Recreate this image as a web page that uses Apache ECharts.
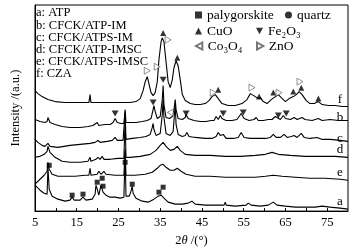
<!DOCTYPE html>
<html>
<head>
<meta charset="utf-8">
<script src="https://cdn.jsdelivr.net/npm/echarts@6/dist/echarts.min.js"></script>
<style>
html, body { margin: 0; padding: 0; background: #fff; }
#chart { width: 356px; height: 252px; }
</style>
</head>
<body>
<div id="chart"></div>
<script>
// x tick labels (2θ)
const xTickLabels = [5, 15, 25, 35, 45, 55, 65, 75];

// sample names, top-left block
const sampleLines = ['a: ATP', 'b: CFCK/ATP-IM', 'c: CFCK/ATPS-IM', 'd: CFCK/ATP-IMSC', 'e: CFCK/ATPS-IMSC', 'f: CZA'];

// curve tags on the right
const curveTags = ['f', 'b', 'c', 'd', 'e', 'a'];
const curveTagY = [100, 118, 139, 150, 173, 202];

// traces: [2θ, offset intensity]
const traceF = [[5.0,121],[5.7,118],[6.7,115],[8.1,112],[9.8,110],[12.2,109],[14.6,109],[17.0,109],[17.9,109],[18.2,117],[18.4,109],[20.6,109],[23.0,109],[25.4,109],[27.8,109],[29.2,110],[30.2,113],[30.9,121],[31.4,130],[31.9,135],[32.3,128],[32.8,119],[33.3,116],[33.8,119],[34.3,130],[34.7,152],[35.2,170],[35.5,174],[35.9,170],[36.4,150],[36.9,130],[37.4,124],[37.9,132],[38.3,144],[38.8,151],[39.3,146],[39.8,132],[40.3,117],[41.0,111],[42.2,108],[43.4,107],[44.6,107],[45.8,108],[46.7,111],[47.4,115],[48.2,117],[48.9,113],[49.8,108],[51.3,106],[53.0,106],[54.6,108],[55.8,112],[56.6,118],[57.0,120],[57.8,115],[58.5,113],[59.0,114],[59.7,110],[60.6,108],[61.6,112],[62.6,115],[63.3,117],[64.0,114],[65.0,110],[65.9,113],[66.9,115],[67.6,117],[68.3,120],[69.0,117],[70.0,111],[70.9,108],[71.9,108],[72.9,110],[73.8,107],[75.3,106],[76.9,106],[78.6,105],[80.0,105]];

const traceB = [[5.0,92],[6.2,90],[7.4,89],[7.9,90],[8.1,94],[8.6,89],[9.8,87],[11.5,85],[13.4,84],[15.8,84],[17.7,85],[18.9,86],[19.9,89],[20.3,86],[21.8,87],[23.0,87],[23.7,89],[24.2,93],[24.7,89],[25.6,88],[26.3,88],[26.6,102],[26.8,89],[27.8,89],[29.2,89],[30.7,90],[31.9,91],[32.8,93],[33.3,102],[33.5,106],[33.8,100],[34.3,93],[35.0,95],[35.5,112],[35.7,126],[35.9,107],[36.4,94],[37.2,93],[37.9,95],[38.3,102],[38.6,112],[38.8,102],[39.3,93],[40.3,92],[41.0,94],[41.2,97],[41.7,93],[43.1,91],[44.6,90],[46.0,90],[47.2,91],[47.9,91],[48.4,95],[48.9,92],[49.4,96],[49.8,93],[50.8,91],[52.2,91],[53.4,92],[54.4,98],[55.1,93],[56.3,91],[57.5,92],[58.0,94],[58.5,91],[59.7,91],[60.9,92],[61.8,92],[62.6,95],[63.0,93],[63.8,92],[64.5,96],[65.0,93],[66.2,92],[67.1,94],[67.8,92],[69.0,94],[69.7,92],[71.4,91],[72.9,93],[73.8,91],[75.7,92],[77.7,91],[80.0,91]];

const traceC = [[5.0,72],[5.7,69],[6.7,66],[7.4,65],[8.1,68],[8.6,65],[10.5,64],[13.4,66],[15.8,67],[18.2,68],[19.4,69],[20.1,71],[20.6,69],[22.3,70],[23.5,71],[24.2,74],[24.7,71],[26.1,71],[26.3,71],[26.6,100],[26.8,72],[28.3,73],[30.2,74],[31.6,75],[32.6,77],[33.1,84],[33.3,88],[33.5,82],[34.0,76],[35.0,78],[35.5,97],[35.7,112],[35.9,94],[36.4,78],[37.4,76],[38.1,80],[38.6,107],[38.8,87],[39.3,77],[40.3,75],[41.0,76],[41.4,79],[41.9,75],[43.4,74],[45.8,73],[47.4,73],[48.4,75],[48.9,79],[49.4,76],[50.1,77],[50.8,73],[52.5,73],[53.7,74],[54.4,79],[55.1,74],[56.6,73],[58.5,73],[60.2,73],[61.4,74],[62.1,77],[62.8,74],[63.8,74],[64.7,77],[65.4,74],[66.4,75],[67.1,76],[67.8,74],[68.8,78],[69.5,74],[70.9,73],[72.6,74],[73.8,72],[75.7,72],[78.1,71],[80.0,70]];

const traceD = [[5.0,54],[6.2,55],[7.2,57],[7.9,60],[8.1,65],[8.6,59],[9.8,54],[11.5,50],[13.4,49],[15.8,49],[17.7,50],[18.2,54],[18.4,50],[19.6,52],[20.1,54],[20.6,52],[21.1,55],[21.5,52],[23.0,52],[24.9,53],[26.3,53],[26.6,94],[26.8,54],[27.8,54],[30.2,55],[32.6,57],[34.0,61],[35.0,66],[35.7,69],[36.4,65],[37.4,61],[38.3,62],[39.1,65],[39.8,61],[41.0,57],[43.4,56],[47.0,56],[50.6,55],[54.2,55],[57.8,56],[60.2,57],[61.8,59],[63.3,57],[66.2,56],[69.7,55],[73.3,55],[76.9,55],[80.0,54]];

const traceE = [[5.0,27],[6.2,32],[7.2,36],[7.9,40],[8.1,49],[8.4,42],[9.1,37],[10.5,35],[12.2,35],[14.6,35],[17.0,36],[17.9,36],[18.2,43],[18.4,36],[19.9,37],[20.3,40],[20.8,37],[21.5,40],[22.0,37],[24.2,36],[26.3,36],[26.6,62],[26.8,36],[29.0,36],[31.4,37],[33.1,39],[34.3,43],[35.0,46],[35.7,47],[36.4,44],[37.4,41],[38.3,41],[39.1,43],[40.0,40],[41.2,37],[43.4,35],[47.0,35],[50.6,34],[54.2,34],[57.8,34],[60.2,35],[62.1,36],[64.2,35],[67.4,34],[70.9,33],[74.5,33],[78.1,32],[80.0,31]];

const traceA = [[5.0,26],[6.2,21],[7.2,18],[7.9,17],[8.1,44],[8.4,22],[9.1,15],[10.5,12],[12.2,10],[13.4,11],[13.9,14],[14.4,11],[15.8,11],[16.5,14],[17.2,11],[18.7,12],[19.4,17],[19.6,26],[19.9,22],[20.3,16],[20.8,26],[21.3,19],[22.0,16],[23.0,14],[24.2,14],[25.4,13],[26.3,14],[26.6,60],[26.8,15],[27.6,15],[28.0,20],[28.3,25],[28.5,18],[29.2,13],[30.7,10],[32.1,9],[33.5,12],[34.5,15],[35.2,16],[35.9,13],[36.9,9],[38.6,7],[40.3,7],[41.7,8],[42.6,10],[43.4,7],[45.8,6],[48.2,6],[50.3,6],[50.6,9],[50.8,6],[53.0,5],[55.6,6],[56.1,8],[56.8,6],[59.0,5],[60.9,6],[62.1,9],[63.0,6],[65.0,5],[67.4,4],[69.7,4],[72.1,4],[73.8,5],[75.7,4],[78.1,3],[80.0,2]];

// phase markers: [2θ, offset intensity]
const palygorskitePts = [[8.4,46],[13.9,16],[16.5,17],[19.9,29],[21.1,33],[21.3,25],[26.6,49],[28.3,27],[34.7,19],[35.7,24]];
const quartzPts = [];
const cuoPts = [[35.7,179],[39.1,154],[48.9,122],[58.7,115],[62.1,119],[66.9,120],[68.8,124],[72.9,113]];
const fe2o3Pts = [[24.2,98],[33.3,109],[35.7,132],[41.2,98],[50.1,98],[54.9,99],[63.3,96],[65.2,98]];
const co3o4Pts = [[37.4,99]];
const znoPts = [[31.9,141],[34.3,145],[36.9,172],[47.7,119],[57.0,124],[63.5,119],[68.5,130]];

const serif = '"Liberation Serif", "Times New Roman", serif';

const chart = echarts.init(document.getElementById('chart'));

function traceSeries(data) {
	return {
		type: 'line',
		data: data,
		showSymbol: false,
		silent: true,
		lineStyle: { color: '#000', width: 1.1 },
		z: 2
	};
}

function markSeries(name, data, symbol, size, style) {
	return {
		type: 'scatter',
		name: name,
		data: data,
		symbol: symbol,
		symbolSize: size,
		itemStyle: style,
		z: 5
	};
}

const solid = { color: '#000' };
const hollow = { color: '#fff', borderColor: '#555', borderWidth: 0.8 };

const legendSpots = [
	['palygorskite', 195, 8],
	['quartz', 285, 8],
	['CuO', 195, 24],
	['Fe₂O₃', 256, 24],
	['Co₃O₄', 195, 39],
	['ZnO', 256, 39]
];

const option = {
	animation: false,
	backgroundColor: '#fff',
	grid: {
		left: 35, right: 8, top: 5, bottom: 40,
		show: true, borderColor: '#000', borderWidth: 1
	},
	legend: legendSpots.map(s => ({
		data: [s[0]],
		left: s[1],
		top: s[2],
		padding: 0,
		itemWidth: 7,
		itemHeight: 7,
		textStyle: { fontFamily: serif, fontSize: 13.5, color: '#000' },
		selectedMode: false
	})),
	xAxis: {
		type: 'value',
		min: 5, max: 80, interval: 5,
		name: '2{i|θ} /(°)',
		nameLocation: 'middle',
		nameGap: 21,
		nameTextStyle: {
			fontFamily: serif, fontSize: 12.5, color: '#000',
			rich: { i: { fontFamily: serif, fontSize: 12.5, fontStyle: 'italic', color: '#000' } }
		},
		axisLine: { show: true, lineStyle: { color: '#000', width: 1 } },
		axisTick: { show: true, inside: true, length: 3, lineStyle: { color: '#000' } },
		axisLabel: {
			margin: 5, fontFamily: serif, fontSize: 12.5, color: '#000',
			showMaxLabel: false,
			formatter: v => xTickLabels.includes(v) ? String(v) : ''
		},
		splitLine: { show: false }
	},
	yAxis: {
		type: 'value',
		min: 0, max: 207,
		name: 'Intensity /(a.u.)',
		nameLocation: 'middle',
		nameGap: 13,
		nameTextStyle: { fontFamily: serif, fontSize: 12.5, color: '#000' },
		axisLine: { show: true, lineStyle: { color: '#000' } },
		axisTick: { show: false },
		axisLabel: { show: false },
		splitLine: { show: false }
	},
	graphic: [
		{
			type: 'text', x: 36, y: 7,
			style: { text: sampleLines.join('\n'), fontFamily: serif, fontSize: 12.5, lineHeight: 12.2, fill: '#000' }
		}
	].concat(curveTags.map((t, i) => ({
		type: 'text', x: 340, y: curveTagY[i],
		style: { text: t, fontFamily: serif, fontSize: 13, fill: '#000', align: 'center', verticalAlign: 'middle' }
	}))),
	series: [
		traceSeries(traceF),
		traceSeries(traceB),
		traceSeries(traceC),
		traceSeries(traceD),
		traceSeries(traceE),
		traceSeries(traceA),
		markSeries('palygorskite', palygorskitePts, 'rect', 5, solid),
		markSeries('quartz', quartzPts, 'circle', 5, solid),
		markSeries('CuO', cuoPts, 'triangle', 6, solid),
		markSeries('Fe₂O₃', fe2o3Pts, 'path://M0,0 L10,0 L5,9 Z', [7, 6], solid),
		markSeries('Co₃O₄', co3o4Pts, 'path://M9,0 L0,5 L9,10 Z', [6, 7], hollow),
		markSeries('ZnO', znoPts, 'path://M0,0 L9,5 L0,10 Z', [6, 7], hollow)
	]
};

chart.setOption(option);
</script>
</body>
</html>
